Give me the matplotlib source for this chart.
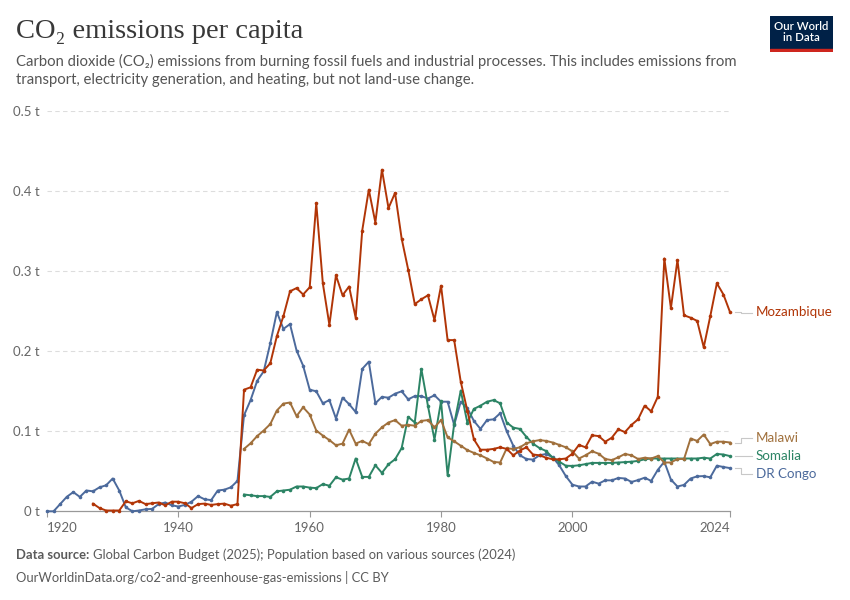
import matplotlib
matplotlib.use("Agg")
import matplotlib.pyplot as plt
import numpy as np

# ---------------- data ----------------
moz_years = list(range(1927, 2025))
moz_vals = [0.0096, 0.004, 0.001, 0.001, 0.001, 0.0125, 0.010, 0.013, 0.009, 0.010,
            0.011, 0.0075, 0.012, 0.012, 0.010, 0.004, 0.009, 0.0096, 0.008, 0.009,
            0.0096, 0.007, 0.009, 0.152, 0.155, 0.177, 0.176, 0.185, 0.219, 0.244,
            0.275, 0.279, 0.271, 0.280, 0.385, 0.285, 0.233, 0.295, 0.270, 0.281,
            0.242, 0.351, 0.402, 0.361, 0.427, 0.379, 0.398, 0.341, 0.302, 0.259,
            0.265, 0.270, 0.239, 0.282, 0.214, 0.214, 0.162, 0.126, 0.090, 0.077,
            0.077, 0.078, 0.080, 0.078, 0.070, 0.076, 0.080, 0.071, 0.070, 0.067,
            0.065, 0.065, 0.066, 0.072, 0.083, 0.080, 0.095, 0.094, 0.087, 0.092,
            0.1025, 0.099, 0.108, 0.115, 0.132, 0.125, 0.143, 0.316, 0.254, 0.314,
            0.245, 0.242, 0.238, 0.205, 0.244, 0.285, 0.271, 0.249]

drc_years = list(range(1920, 2025))
drc_vals = [0.0, 0.0, 0.009, 0.018, 0.024, 0.018, 0.026, 0.025, 0.030, 0.0325,
            0.041, 0.026, 0.005, 0.0, 0.001, 0.0025, 0.003, 0.009, 0.011, 0.0075,
            0.006, 0.008, 0.012, 0.019, 0.015, 0.014, 0.026, 0.027, 0.030, 0.038,
            0.120, 0.139, 0.163, 0.175, 0.210, 0.249, 0.228, 0.234, 0.201, 0.182,
            0.152, 0.150, 0.135, 0.139, 0.116, 0.142, 0.134, 0.124, 0.178, 0.187,
            0.135, 0.143, 0.142, 0.147, 0.150, 0.140, 0.144, 0.144, 0.141, 0.145,
            0.137, 0.137, 0.108, 0.137, 0.129, 0.113, 0.103, 0.114, 0.115, 0.1225,
            0.100, 0.082, 0.070, 0.0654, 0.0646, 0.070, 0.0717, 0.0675, 0.0575, 0.044,
            0.0333, 0.031, 0.031, 0.037, 0.0346, 0.0387, 0.0387, 0.0417, 0.041, 0.0367,
            0.039, 0.042, 0.038, 0.0517, 0.062, 0.0396, 0.031, 0.033, 0.041, 0.0437,
            0.044, 0.0425, 0.057, 0.0554, 0.054]

mwi_years = list(range(1950, 2025))
mwi_vals = [0.078, 0.085, 0.094, 0.101, 0.109, 0.126, 0.1346, 0.136, 0.119, 0.130,
            0.121, 0.101, 0.0946, 0.089, 0.0825, 0.0846, 0.102, 0.0846, 0.088, 0.084,
            0.097, 0.105, 0.111, 0.114, 0.107, 0.108, 0.107, 0.113, 0.114, 0.105,
            0.114, 0.0925, 0.0875, 0.082, 0.0765, 0.073, 0.070, 0.066, 0.0617, 0.061,
            0.0787, 0.078, 0.080, 0.085, 0.0875, 0.089, 0.088, 0.086, 0.083, 0.080,
            0.075, 0.066, 0.070, 0.075, 0.072, 0.0654, 0.064, 0.0675, 0.0717, 0.070,
            0.0654, 0.067, 0.066, 0.069, 0.061, 0.061, 0.0654, 0.0654, 0.091, 0.088,
            0.096, 0.084, 0.087, 0.087, 0.086]

som_years = list(range(1950, 2025))
som_vals = [0.021, 0.020, 0.019, 0.019, 0.018, 0.025, 0.026, 0.027, 0.031, 0.031,
            0.0296, 0.029, 0.034, 0.032, 0.0425, 0.0396, 0.041, 0.066, 0.043, 0.043,
            0.0575, 0.048, 0.0588, 0.065, 0.079, 0.118, 0.111, 0.178, 0.132, 0.0896,
            0.1375, 0.045, 0.109, 0.151, 0.111, 0.128, 0.132, 0.137, 0.139, 0.135,
            0.111, 0.1046, 0.103, 0.093, 0.0846, 0.079, 0.0754, 0.067, 0.062, 0.057,
            0.0567, 0.0575, 0.059, 0.0605, 0.0605, 0.0605, 0.0605, 0.061, 0.0615, 0.062,
            0.063, 0.065, 0.066, 0.066, 0.066, 0.066, 0.066, 0.066, 0.066, 0.066,
            0.067, 0.066, 0.0717, 0.071, 0.069]

series_names = ["Mozambique", "Malawi", "Somalia", "DR Congo"]
series_colors = ["#B13507", "#A0703C", "#2C8465", "#4C6A9C"]
label_y = [0.2485, 0.0920, 0.0695, 0.0465]

y_ticks = [0, 0.1, 0.2, 0.3, 0.4, 0.5]
y_tick_labels = ["0 t", "0.1 t", "0.2 t", "0.3 t", "0.4 t", "0.5 t"]
x_ticks = [1920, 1940, 1960, 1980, 2000, 2024]

# ---------------- figure ----------------
plt.rcParams['font.family'] = ['Lato', 'DejaVu Sans']
fig = plt.figure(figsize=(8.5, 6), dpi=100)
ax = fig.add_axes([47/850, 1-511.3/600, (730-47)/850, 400/600])

data = {"Mozambique": (moz_years, moz_vals), "Malawi": (mwi_years, mwi_vals),
        "Somalia": (som_years, som_vals), "DR Congo": (drc_years, drc_vals)}

draw_order = ["DR Congo", "Somalia", "Malawi", "Mozambique"]
for name in draw_order:
    i = series_names.index(name)
    xs, ys = data[name]
    ax.plot(xs, ys, color=series_colors[i], lw=1.4, marker='o', markersize=2.6,
            markeredgewidth=0, zorder=3, clip_on=False)

ax.set_xlim(1920, 2024)
ax.set_ylim(0, 0.5)

for s in ["top", "right", "left"]:
    ax.spines[s].set_visible(False)
ax.spines["bottom"].set_color("#999999")
ax.spines["bottom"].set_linewidth(0.9)

ax.set_yticks(y_ticks)
ax.set_yticklabels(y_tick_labels)
ax.tick_params(axis='y', length=0, pad=5, labelsize=9.5, labelcolor="#666666")
for yv in y_ticks[1:]:
    ax.axhline(yv, color="#dddddd", lw=0.8, ls=(0, (4, 3)), zorder=1)

ax.set_xticks(x_ticks)
ax.set_xticklabels([str(x) for x in x_ticks])
ax.tick_params(axis='x', length=4, width=0.8, color="#999999", pad=4,
               labelsize=9.5, labelcolor="#666666")
xl = ax.get_xticklabels()
xl[0].set_ha("left")
xl[-1].set_ha("right")

# end labels and connectors
for i, name in enumerate(series_names):
    xs, ys = data[name]
    y_end = ys[-1]
    ly = label_y[i]
    ax.plot([2024.77, 2025.6, 2025.6, 2027.3], [y_end, y_end, ly, ly],
            color="#c8c8c8", lw=0.8, clip_on=False, zorder=2)
    ax.text(2027.95, ly, name, color=series_colors[i], fontsize=9.6,
            va="center", ha="left")

# ---------------- texts ----------------
fig.text(16/850, 1-32/600, "CO₂ emissions per capita", fontsize=20.5,
         family=["Liberation Serif", "DejaVu Serif"], color="#383838", va="center")
fig.text(16/850, 1-61/600,
         "Carbon dioxide (CO₂) emissions from burning fossil fuels and industrial processes. This includes emissions from",
         fontsize=10.7, color="#555555", va="center")
fig.text(16/850, 1-80/600,
         "transport, electricity generation, and heating, but not land-use change.",
         fontsize=10.7, color="#555555", va="center")

t1 = fig.text(16/850, 1-555/600, "Data source:", fontsize=9.35, color="#5b5b5b",
              fontweight="bold", va="center")
fig.canvas.draw()
bb = t1.get_window_extent(renderer=fig.canvas.get_renderer())
fig.text((bb.x1 + 4)/850, 1-555/600,
         "Global Carbon Budget (2025); Population based on various sources (2024)",
         fontsize=9.35, color="#5b5b5b", va="center")
fig.text(16/850, 1-577/600,
         "OurWorldinData.org/co2-and-greenhouse-gas-emissions | CC BY",
         fontsize=9.35, color="#5b5b5b", va="center")

# logo
logo = fig.add_axes([770/850, 1-52/600, 63/850, 36/600])
logo.set_xlim(0, 1)
logo.set_ylim(0, 1)
logo.axis("off")
logo.add_patch(plt.Rectangle((0, 0.08), 1, 0.92, color="#002147"))
logo.add_patch(plt.Rectangle((0, 0), 1, 0.09, color="#CE261E"))
logo.text(0.5, 0.55, "Our World\nin Data", color="white", fontsize=8.2,
          ha="center", va="center", linespacing=1.0, fontweight="semibold")

fig.savefig("out.png", dpi=100)
